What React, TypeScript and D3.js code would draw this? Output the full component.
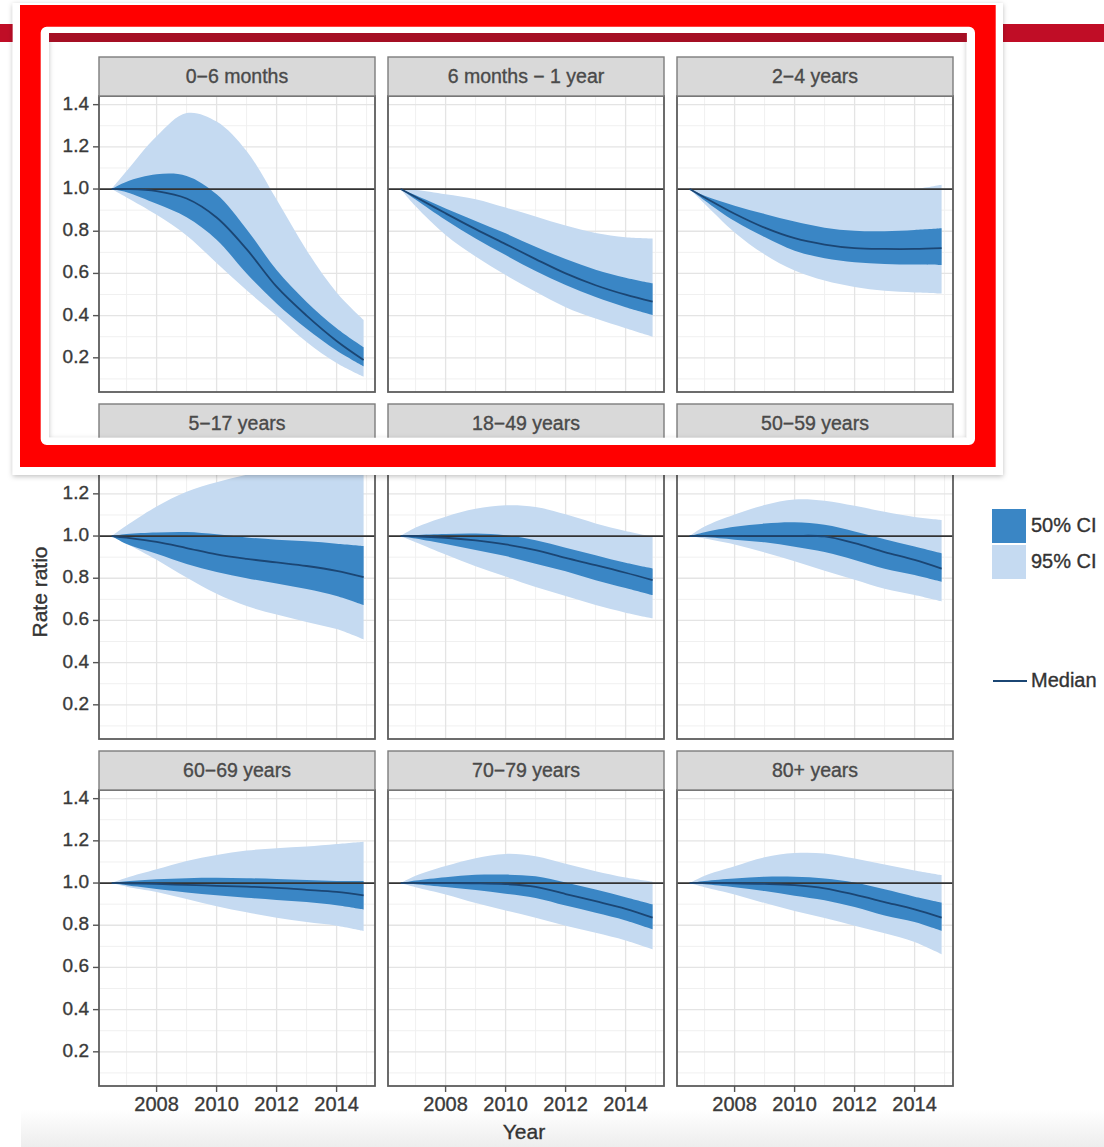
import React from 'react';
import * as d3 from 'd3';

const years = [2006.5, 2007, 2008, 2009, 2010, 2011, 2012, 2013, 2014, 2014.9];
const ageGroups = [
  '0\u22126 months', '6 months \u2212 1 year', '2\u22124 years',
  '5\u221217 years', '18\u221249 years', '50\u221259 years',
  '60\u221269 years', '70\u221279 years', '80+ years',
];

// one row per age group, values at `years`
const median = [
  [1.0, 1.0, 0.99, 0.955, 0.865, 0.715, 0.537, 0.40, 0.28, 0.19],
  [1.0, 0.962, 0.885, 0.81, 0.739, 0.668, 0.60, 0.544, 0.499, 0.466],
  [1.0, 0.96, 0.883, 0.817, 0.767, 0.737, 0.72, 0.716, 0.716, 0.72],
  [1.0, 0.992, 0.972, 0.943, 0.913, 0.892, 0.875, 0.858, 0.835, 0.805],
  [1.0, 0.999, 0.992, 0.979, 0.96, 0.933, 0.896, 0.862, 0.826, 0.791],
  [1.0, 1.0, 1.0, 1.001, 1.001, 0.998, 0.966, 0.924, 0.887, 0.846],
  [1.0, 0.999, 0.996, 0.991, 0.987, 0.983, 0.977, 0.968, 0.958, 0.942],
  [1.0, 1.0, 1.0, 0.999, 0.995, 0.982, 0.948, 0.914, 0.878, 0.836],
  [1.0, 1.0, 0.999, 0.996, 0.99, 0.975, 0.945, 0.91, 0.875, 0.836],
];
const lo50 = [
  [1.0, 0.985, 0.93, 0.866, 0.76, 0.60, 0.458, 0.338, 0.235, 0.16],
  [1.0, 0.95, 0.853, 0.766, 0.687, 0.612, 0.545, 0.488, 0.44, 0.403],
  [1.0, 0.946, 0.848, 0.773, 0.708, 0.672, 0.653, 0.645, 0.642, 0.64],
  [1.0, 0.962, 0.916, 0.868, 0.83, 0.80, 0.775, 0.749, 0.716, 0.673],
  [1.0, 0.988, 0.962, 0.934, 0.905, 0.869, 0.833, 0.791, 0.754, 0.72],
  [1.0, 0.995, 0.983, 0.97, 0.949, 0.924, 0.887, 0.845, 0.815, 0.783],
  [1.0, 0.99, 0.972, 0.955, 0.942, 0.93, 0.92, 0.91, 0.895, 0.875],
  [1.0, 0.994, 0.981, 0.967, 0.949, 0.929, 0.893, 0.859, 0.823, 0.781],
  [1.0, 0.994, 0.98, 0.962, 0.94, 0.918, 0.886, 0.846, 0.815, 0.773],
];
const hi50 = [
  [1.0, 1.035, 1.07, 1.062, 0.975, 0.81, 0.616, 0.465, 0.34, 0.25],
  [1.0, 0.97, 0.908, 0.849, 0.79, 0.727, 0.668, 0.618, 0.58, 0.553],
  [1.0, 0.968, 0.921, 0.882, 0.846, 0.817, 0.802, 0.80, 0.806, 0.814],
  [1.0, 1.01, 1.017, 1.019, 1.008, 0.993, 0.983, 0.975, 0.964, 0.953],
  [1.0, 1.005, 1.01, 1.012, 1.004, 0.98, 0.945, 0.909, 0.873, 0.846],
  [1.0, 1.018, 1.044, 1.059, 1.065, 1.053, 1.022, 0.985, 0.95, 0.918],
  [1.0, 1.008, 1.018, 1.023, 1.025, 1.023, 1.019, 1.014, 1.01, 1.01],
  [1.0, 1.012, 1.028, 1.039, 1.04, 1.032, 1.003, 0.969, 0.933, 0.899],
  [1.0, 1.01, 1.022, 1.03, 1.03, 1.022, 1.003, 0.97, 0.935, 0.907],
];
const lo95 = [
  [1.0, 0.96, 0.878, 0.78, 0.65, 0.52, 0.40, 0.275, 0.175, 0.11],
  [1.0, 0.918, 0.782, 0.68, 0.592, 0.513, 0.44, 0.386, 0.34, 0.30],
  [1.0, 0.93, 0.794, 0.69, 0.614, 0.566, 0.536, 0.518, 0.51, 0.505],
  [1.0, 0.964, 0.888, 0.803, 0.726, 0.668, 0.628, 0.593, 0.559, 0.51],
  [1.0, 0.97, 0.912, 0.857, 0.808, 0.758, 0.716, 0.673, 0.637, 0.61],
  [1.0, 0.988, 0.96, 0.922, 0.88, 0.836, 0.793, 0.75, 0.72, 0.69],
  [1.0, 0.983, 0.958, 0.924, 0.89, 0.861, 0.836, 0.815, 0.798, 0.773],
  [1.0, 0.98, 0.946, 0.905, 0.87, 0.835, 0.798, 0.764, 0.728, 0.686],
  [1.0, 0.98, 0.946, 0.905, 0.868, 0.834, 0.798, 0.762, 0.72, 0.662],
];
const hi95 = [
  [1.0, 1.085, 1.25, 1.36, 1.32, 1.18, 0.95, 0.71, 0.51, 0.38],
  [1.0, 0.995, 0.975, 0.952, 0.912, 0.87, 0.827, 0.792, 0.772, 0.766],
  [1.0, 1.0, 0.998, 0.996, 0.995, 0.995, 0.995, 0.996, 1.0, 1.02],
  [1.0, 1.05, 1.14, 1.21, 1.255, 1.29, 1.32, 1.345, 1.365, 1.38],
  [1.0, 1.04, 1.092, 1.129, 1.146, 1.138, 1.103, 1.06, 1.024, 0.997],
  [1.0, 1.045, 1.102, 1.147, 1.173, 1.167, 1.143, 1.115, 1.09, 1.076],
  [1.0, 1.025, 1.065, 1.105, 1.133, 1.154, 1.165, 1.173, 1.185, 1.196],
  [1.0, 1.035, 1.081, 1.118, 1.138, 1.127, 1.091, 1.056, 1.026, 1.006],
  [1.0, 1.035, 1.08, 1.122, 1.142, 1.14, 1.116, 1.088, 1.06, 1.038],
];

const xTicks = [2008, 2010, 2012, 2014];
const xMinor = [2007, 2009, 2011, 2013, 2015];
const yTicks = [0.2, 0.4, 0.6, 0.8, 1.0, 1.2, 1.4];
const yMinor = [0.1, 0.3, 0.5, 0.7, 0.9, 1.1, 1.3];
const legendBands = ['50% CI', '95% CI'];
const legendLine = 'Median';

const W = 1104;
const H = 1147;
const colLeft = [99, 388, 677];
const stripTop = [57, 404, 751];
const panelW = 276;
const stripH = 39;
const panelH = 296;

const light = '#c5daf1';
const dark = '#3a86c5';
const lineCol = '#1b4674';
const font = 'Liberation Sans, Arial, sans-serif';
const txt = { fontFamily: font, stroke: '#3a3a3a', strokeWidth: 0.35 };

const Panel = ({ i }: { i: number }) => {
  const col = i % 3;
  const row = Math.floor(i / 3);
  const left = colLeft[col];
  const top = stripTop[row] + stripH;
  const x = d3.scaleLinear().domain([2006.08, 2015.28]).range([left, left + panelW]);
  const y = d3.scaleLinear().domain([0.038, 1.441]).range([top + panelH, top]);

  const band = (lo: number[], hi: number[]) =>
    d3.area<number>()
      .x((_, k) => x(years[k]))
      .y0((_, k) => y(lo[k]))
      .y1((_, k) => y(hi[k]))
      .curve(d3.curveCatmullRom.alpha(0.5))(years) as string;
  const line = d3.line<number>()
    .x((_, k) => x(years[k]))
    .y((_, k) => y(median[i][k]))
    .curve(d3.curveCatmullRom.alpha(0.5))(years) as string;

  return (
    <g>
      <rect x={left} y={top} width={panelW} height={panelH} fill="#fff" />
      {xMinor.map(t => (
        <line key={'xm' + t} x1={x(t)} x2={x(t)} y1={top} y2={top + panelH} stroke="#f0f0f0" strokeWidth={1} />
      ))}
      {yMinor.map(t => (
        <line key={'ym' + t} x1={left} x2={left + panelW} y1={y(t)} y2={y(t)} stroke="#f0f0f0" strokeWidth={1} />
      ))}
      {xTicks.map(t => (
        <line key={'xg' + t} x1={x(t)} x2={x(t)} y1={top} y2={top + panelH} stroke="#e4e4e4" strokeWidth={1.3} />
      ))}
      {yTicks.map(t => (
        <line key={'yg' + t} x1={left} x2={left + panelW} y1={y(t)} y2={y(t)} stroke="#e4e4e4" strokeWidth={1.3} />
      ))}
      <path d={band(lo95[i], hi95[i])} fill={light} />
      <path d={band(lo50[i], hi50[i])} fill={dark} />
      <line x1={left} x2={left + panelW} y1={y(1)} y2={y(1)} stroke="#333" strokeWidth={1.7} />
      <path d={line} fill="none" stroke={lineCol} strokeWidth={1.8} />
      <rect x={left} y={top} width={panelW} height={panelH} fill="none" stroke="#5c5c5c" strokeWidth={1.8} />
      <rect x={left} y={stripTop[row]} width={panelW} height={stripH} fill="#d9d9d9" stroke="#7d7d7d" strokeWidth={1.4} />
      <text x={left + panelW / 2} y={stripTop[row] + stripH / 2 + 1} textAnchor="middle" dominantBaseline="middle"
        {...txt} stroke="#4a4a4a" fontSize={19.5} fill="#4a4a4a">{ageGroups[i]}</text>
      {col === 0 && yTicks.map(t => (
        <g key={'yt' + t}>
          <line x1={left - 6} x2={left} y1={y(t)} y2={y(t)} stroke="#555" strokeWidth={1.4} />
          <text x={left - 10} y={y(t)} textAnchor="end" dominantBaseline="middle" {...txt}
            fontSize={19} fill="#3a3a3a">{d3.format('.1f')(t)}</text>
        </g>
      ))}
      {row === 2 && xTicks.map(t => (
        <g key={'xt' + t}>
          <line x1={x(t)} x2={x(t)} y1={top + panelH} y2={top + panelH + 6} stroke="#555" strokeWidth={1.4} />
          <text x={x(t)} y={top + panelH + 20} textAnchor="middle" dominantBaseline="middle" {...txt}
            fontSize={20} fill="#3a3a3a">{t}</text>
        </g>
      ))}
    </g>
  );
};

const App = () => {
  const outer = 'M12.7,3 H1003 V475 H12.7 Z';
  const hole = 'M49,33 H966.7 V437.7 H49 Z';
  const red = 'M20,5 H995.7 V467 H20 Z';
  const innerR = d3.path();
  const r = 6, ix0 = 40.7, iy0 = 26.7, ix1 = 975, iy1 = 445;
  innerR.moveTo(ix0 + r, iy0);
  innerR.lineTo(ix1 - r, iy0);
  innerR.arcTo(ix1, iy0, ix1, iy0 + r, r);
  innerR.lineTo(ix1, iy1 - r);
  innerR.arcTo(ix1, iy1, ix1 - r, iy1, r);
  innerR.lineTo(ix0 + r, iy1);
  innerR.arcTo(ix0, iy1, ix0, iy1 - r, r);
  innerR.lineTo(ix0, iy0 + r);
  innerR.arcTo(ix0, iy0, ix0 + r, iy0, r);
  innerR.closePath();

  return (
    <svg width={W} height={H} style={{ position: 'absolute', left: 0, top: 0 }}>
      <defs>
        <filter id="shadow" x="-5%" y="-5%" width="110%" height="110%">
          <feDropShadow dx="0" dy="1.5" stdDeviation="2.5" floodColor="#000" floodOpacity="0.25" />
        </filter>
        <linearGradient id="foot" x1="0" x2="0" y1="0" y2="1">
          <stop offset="0" stopColor="#ffffff" />
          <stop offset="1" stopColor="#ededed" />
        </linearGradient>
      </defs>
      <rect width={W} height={H} fill="#fff" />
      <rect x={21} y={1110} width={W - 21} height={H - 1110} fill="url(#foot)" />
      <rect x={0} y={24} width={W} height={18} fill="#c00d26" />

      {ageGroups.map((_, i) => <Panel key={i} i={i} />)}

      <text transform="translate(41,592) rotate(-90)" textAnchor="middle" dominantBaseline="middle"
        {...txt} stroke="#333" fontSize={21} fill="#333">Rate ratio</text>
      <text x={524} y={1133} textAnchor="middle" dominantBaseline="middle" {...txt} stroke="#333"
        fontSize={21} fill="#333">Year</text>

      {legendBands.map((d, k) => (
        <g key={d}>
          <rect x={992} y={509 + k * 36} width={34} height={34} fill={k === 0 ? dark : light} />
          <text x={1031} y={527 + k * 36} dominantBaseline="middle" {...txt} stroke="#333" fontSize={20}
            fill="#333">{d}</text>
        </g>
      ))}
      <line x1={993} x2={1027} y1={681} y2={681} stroke={lineCol} strokeWidth={1.8} />
      <text x={1031} y={682} dominantBaseline="middle" {...txt} stroke="#333" fontSize={20} fill="#333">{legendLine}</text>

      {/* highlight box over the first row */}
      <path d={outer + ' ' + hole} fill="#fff" fillRule="evenodd" filter="url(#shadow)" />
      <path d={red + ' ' + innerR.toString()} fill="#ff0000" fillRule="evenodd" />
      <rect x={49} y={33} width={917.7} height={9} fill="#a50f24" />
    </svg>
  );
};

export default App;
